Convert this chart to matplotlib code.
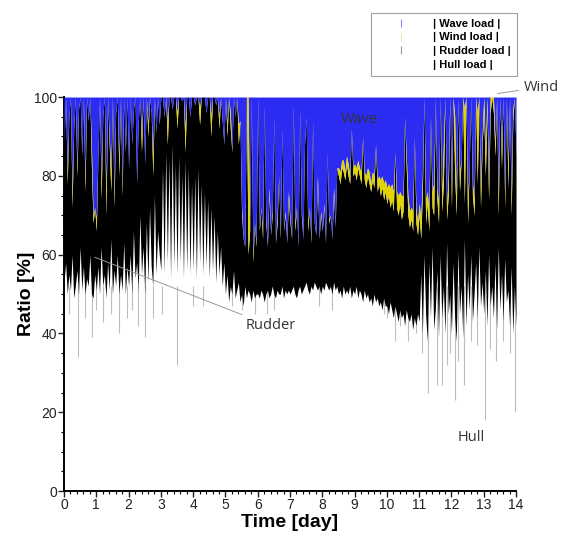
import numpy as np
import matplotlib.pyplot as plt
from matplotlib.lines import Line2D
from matplotlib.ticker import MultipleLocator

plt.rc('font', family='Liberation Sans')

# sampled every 0.05 day, 20 values per day row
hull_top = np.array(
    [53, 58, 50, 55, 51, 60, 49, 52, 56, 50, 62, 51, 57, 50, 54, 52, 60, 50, 49, 55]
    + [51, 57, 50, 62, 52, 55, 49, 58, 51, 64, 50, 56, 52, 60, 50, 55, 51, 63, 50, 57]
    + [52, 60, 50, 66, 54, 58, 51, 70, 55, 62, 50, 68, 53, 72, 57, 52, 75, 55, 66, 60]
    + [56, 82, 55, 86, 58, 84, 54, 88, 57, 83, 55, 85, 58, 80, 54, 84, 56, 82, 55, 78]
    + [56, 80, 54, 82, 58, 78, 55, 76, 57, 74, 54, 72, 56, 70, 53, 66, 55, 62, 52, 58]
    + [50, 55, 48, 52, 50, 56, 49, 51, 53, 48, 50, 47, 52, 49, 51, 50, 48, 51, 49, 50]
    + [50, 49, 51, 50, 48, 50, 51, 49, 50, 52, 50, 49, 51, 50, 50, 52, 49, 51, 50, 51]
    + [50, 51, 52, 50, 49, 51, 52, 50, 51, 52, 53, 51, 50, 52, 51, 53, 52, 51, 52, 50]
    + [52, 51, 53, 52, 51, 52, 50, 53, 51, 52, 50, 51, 49, 52, 50, 51, 50, 52, 49, 51]
    + [50, 52, 49, 51, 50, 48, 51, 49, 50, 48, 49, 47, 50, 48, 49, 47, 48, 46, 49, 47]
    + [47, 45, 48, 46, 44, 47, 45, 43, 46, 44, 45, 42, 46, 44, 43, 45, 41, 44, 42, 45]
    + [43, 55, 40, 60, 45, 38, 58, 44, 62, 41, 46, 56, 39, 60, 44, 52, 40, 63, 45, 50]
    + [40, 58, 44, 38, 61, 45, 52, 39, 64, 42, 55, 46, 60, 43, 50, 58, 44, 62, 47, 53]
    + [45, 56, 42, 60, 47, 52, 44, 58, 41, 62, 46, 55, 43, 59, 48, 51, 42, 57, 40, 52]
    + [42])

rudder_top = np.array(
    [88, 100, 78, 95, 100, 72, 92, 100, 80, 97, 100, 85, 100, 76, 100, 94, 100, 82, 68, 72]
    + [66, 85, 100, 74, 95, 100, 70, 100, 88, 76, 100, 72, 96, 100, 80, 100, 75, 100, 86, 100]
    + [82, 100, 88, 97, 100, 78, 94, 100, 86, 100, 83, 100, 90, 100, 96, 80, 100, 91, 100, 93]
    + [100, 100, 95, 100, 88, 100, 100, 97, 100, 100, 92, 100, 100, 99, 100, 86, 100, 100, 95, 100]
    + [100, 98, 100, 100, 93, 100, 100, 100, 96, 100, 100, 90, 100, 100, 98, 100, 92, 100, 94, 88]
    + [100, 90, 100, 92, 86, 100, 95, 100, 88, 94, 70, 64, 62, 100, 60, 66, 100, 58, 68, 62]
    + [100, 66, 72, 64, 98, 68, 62, 75, 65, 70, 95, 63, 68, 80, 64, 92, 66, 70, 63, 74]
    + [68, 64, 98, 66, 72, 62, 97, 70, 64, 88, 95, 66, 72, 63, 94, 68, 65, 78, 64, 70]
    + [66, 72, 63, 86, 68, 70, 64, 75, 67, 82, 80, 78, 82, 81, 79, 83, 80, 78, 92, 80]
    + [81, 79, 82, 80, 78, 90, 79, 77, 80, 78, 76, 79, 77, 88, 76, 78, 75, 77, 74, 76]
    + [73, 75, 72, 74, 71, 86, 72, 70, 73, 69, 71, 95, 82, 70, 67, 69, 66, 90, 68, 65]
    + [70, 64, 76, 100, 68, 73, 66, 95, 72, 70, 100, 74, 68, 100, 71, 78, 100, 69, 75, 100]
    + [72, 100, 80, 70, 100, 76, 84, 100, 73, 100, 68, 82, 100, 75, 70, 100, 78, 100, 72, 88]
    + [96, 80, 97, 74, 96, 100, 96, 85, 100, 70, 100, 82, 100, 72, 100, 77, 100, 70, 94, 100]
    + [85])

wind = np.array(
    [0, 0, 3, 0, 0, 4, 0, 0, 2, 0, 0, 0, 0, 3, 0, 0, 0, 5, 2, 0]
    + [3, 0, 0, 4, 0, 0, 6, 0, 2, 5, 0, 3, 0, 0, 4, 0, 2, 0, 0, 0]
    + [0, 0, 0, 0, 0, 0, 0, 0, 4, 0, 0, 0, 3, 0, 0, 5, 0, 0, 0, 0]
    + [0, 0, 0, 0, 5, 0, 0, 0, 0, 0, 4, 0, 0, 0, 0, 6, 0, 0, 0, 0]
    + [0, 0, 0, 0, 4, 0, 0, 0, 0, 0, 0, 5, 0, 0, 0, 0, 3, 0, 0, 0]
    + [0, 3, 0, 4, 0, 0, 0, 0, 5, 0, 2, 0, 0, 0, 40, 0, 0, 2, 0, 1]
    + [0, 1, 0, 2, 0, 1, 0, 2, 0, 1, 0, 0, 2, 0, 1, 0, 0, 1, 0, 2]
    + [1, 0, 0, 2, 0, 0, 0, 1, 0, 0, 0, 2, 0, 1, 0, 0, 0, 2, 0, 1]
    + [0, 1, 0, 0, 1, 0, 0, 2, 0, 0, 2, 3, 2, 3, 2, 2, 3, 2, 0, 2]
    + [2, 3, 2, 2, 3, 0, 2, 3, 2, 3, 2, 2, 3, 0, 3, 2, 4, 3, 4, 3]
    + [4, 3, 5, 4, 5, 0, 4, 5, 3, 6, 4, 0, 3, 5, 4, 3, 5, 0, 4, 3]
    + [3, 5, 4, 0, 6, 3, 5, 0, 4, 8, 0, 3, 5, 0, 4, 10, 0, 3, 5, 0]
    + [4, 0, 15, 3, 0, 5, 0, 0, 24, 0, 6, 0, 0, 3, 4, 0, 18, 0, 5, 2]
    + [4, 6, 3, 4, 4, 0, 4, 3, 0, 5, 0, 4, 0, 3, 0, 5, 0, 4, 3, 0]
    + [0])

days = np.linspace(0, 14, len(hull_top))

# single deep hull samples (thin grey spikes below the band)
dip_days = [0.15, 0.44, 0.65, 0.86, 1.0, 1.2, 1.45, 1.7, 1.95, 2.1, 2.3, 2.52, 2.75, 3.05,
            3.5, 4.0, 4.3, 5.2, 5.5, 5.9, 6.3, 6.5, 7.9, 8.3, 9.9, 10.0, 10.24, 10.4, 10.64,
            10.9, 11.1, 11.26, 11.54, 11.7, 11.85, 11.95, 12.1, 12.2, 12.4, 12.6, 12.8,
            13.03, 13.2, 13.37, 13.6, 13.8, 13.97]
dip_vals = [45, 34, 44, 39, 46, 43, 45, 40, 44, 46, 42, 39, 44, 45, 32, 47, 47, 47, 46, 45,
            45, 46, 47, 46, 45, 44, 38, 42, 38, 40, 35, 25, 27, 27, 32, 35, 23, 33, 27, 38,
            37, 18, 36, 33, 38, 35, 20]

labels = ['| Wave load |', '| Wind load |', '| Rudder load |', '| Hull load |']
c_wave = '#2b2bf2'
c_wind = '#e2d400'
c_rudder = '#000000'
c_hull = '#ffffff'

fig = plt.figure(figsize=(5.66, 5.34), dpi=100)
ax = fig.add_axes([0.1131, 0.0805, 0.7986, 0.7378])

ax.fill_between(days, 0, hull_top, color=c_hull, lw=0, zorder=1)
ax.vlines(dip_days, dip_vals, 52, color='#bdbdbd', lw=0.8, zorder=2)
ax.fill_between(days, hull_top, rudder_top, color=c_rudder, lw=0, zorder=3)
ax.fill_between(days, rudder_top, rudder_top + wind, color=c_wind, lw=0, zorder=4)
ax.fill_between(days, rudder_top + wind, 100, color=c_wave, lw=0, zorder=3)

ax.set_xlim(0, 14)
ax.set_ylim(0, 100)
ax.xaxis.set_major_locator(MultipleLocator(1))
ax.xaxis.set_minor_locator(MultipleLocator(0.2))
ax.yaxis.set_major_locator(MultipleLocator(20))
ax.yaxis.set_minor_locator(MultipleLocator(5))
ax.tick_params(which='major', length=4, width=1, labelsize=10, colors='#222222', pad=1)
ax.tick_params(which='minor', length=2.5, width=0.8)
ax.spines['top'].set_visible(False)
ax.spines['right'].set_visible(False)
ax.spines['left'].set_linewidth(1.4)
ax.spines['bottom'].set_linewidth(1.4)
ax.set_xlabel('Time [day]', fontsize=14, fontweight='bold', labelpad=1.5)
ax.set_ylabel('Ratio [%]', fontsize=14, fontweight='bold', labelpad=-1)

note = dict(fontsize=10.5, color='#333333', family='Open Sans')
ax.text(9.15, 94.2, 'Wave', ha='center', va='center', zorder=6, **note)
ax.text(12.62, 13.7, 'Hull', ha='center', va='center', **note)
ax.annotate('Rudder', xy=(0.87, 59.6), xytext=(5.63, 41.9), ha='left', va='center',
            arrowprops=dict(arrowstyle='-', color='#999999', lw=0.7), zorder=6, **note)
ax.annotate('Wind', xy=(13.35, 100.8), xytext=(14.25, 102.5), ha='left', va='center',
            annotation_clip=False,
            arrowprops=dict(arrowstyle='-', color='#999999', lw=0.7), **note)

handles = [Line2D([], [], marker='|', ls='none', color=c, markersize=6, markeredgewidth=0.8)
           for c in ['#8c8cff', '#f2ec9a', '#9a9a9a', '#ffffff']]
leg = fig.legend(handles, labels, loc='upper left', bbox_to_anchor=(371 / 566, 1 - 13 / 534),
                 prop=dict(weight='bold', size=8), frameon=True, fancybox=False,
                 edgecolor='#888888', handlelength=4.4, handletextpad=0.7,
                 labelspacing=0.35, borderpad=0.5, borderaxespad=0)
leg.get_frame().set_linewidth(0.8)

fig.savefig('out.png', dpi=100)
